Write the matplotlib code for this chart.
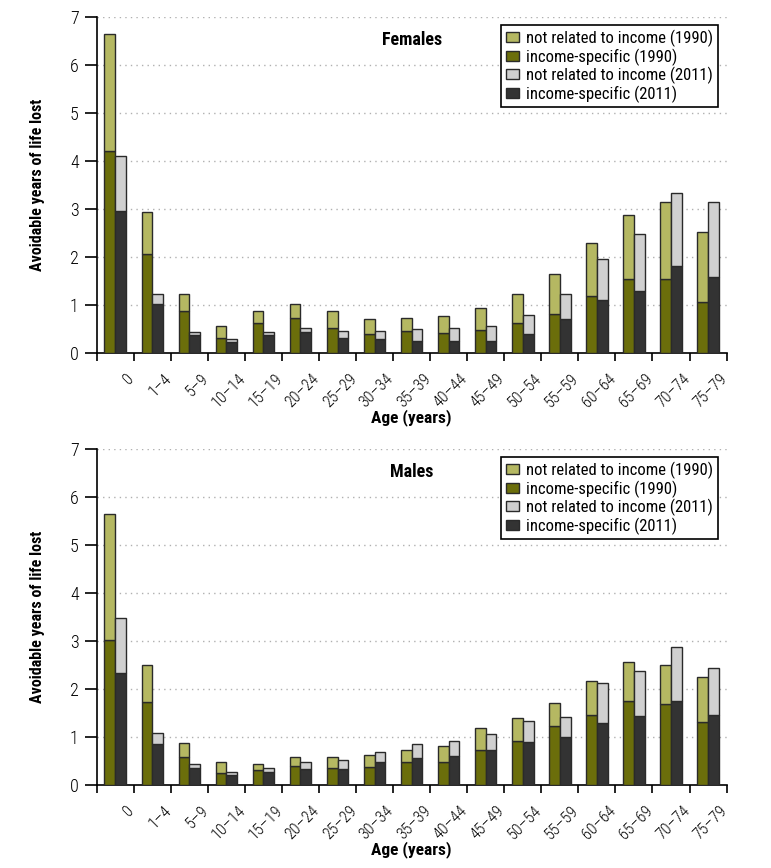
import numpy as np
import matplotlib
matplotlib.use("Agg")
import matplotlib.pyplot as plt
import matplotlib.transforms as mtransforms
from matplotlib.patches import Patch

plt.rcParams["font.family"] = ["Roboto Condensed", "Liberation Sans Narrow", "Roboto", "DejaVu Sans"]

# Data
ages = ["0", "1\u20134", "5\u20139", "10\u201314", "15\u201319", "20\u201324", "25\u201329",
        "30\u201334", "35\u201339", "40\u201344", "45\u201349", "50\u201354", "55\u201359",
        "60\u201364", "65\u201369", "70\u201374", "75\u201379"]

# Females: income-specific and total (income-specific + not related to income)
f_inc_1990 = [4.22, 2.07, 0.87, 0.32, 0.63, 0.74, 0.53, 0.40, 0.46, 0.42, 0.48, 0.63, 0.82, 1.18, 1.54, 1.54, 1.06]
f_tot_1990 = [6.65, 2.94, 1.24, 0.56, 0.87, 1.03, 0.87, 0.70, 0.73, 0.77, 0.93, 1.24, 1.64, 2.30, 2.87, 3.14, 2.52]
f_inc_2011 = [2.97, 1.02, 0.37, 0.22, 0.37, 0.43, 0.32, 0.30, 0.26, 0.26, 0.26, 0.40, 0.70, 1.11, 1.30, 1.81, 1.58]
f_tot_2011 = [4.11, 1.24, 0.44, 0.30, 0.44, 0.53, 0.46, 0.46, 0.50, 0.53, 0.57, 0.80, 1.24, 1.97, 2.49, 3.34, 3.14]

# Males
m_inc_1990 = [3.02, 1.74, 0.59, 0.26, 0.31, 0.40, 0.35, 0.38, 0.47, 0.47, 0.72, 0.92, 1.24, 1.46, 1.75, 1.69, 1.31]
m_tot_1990 = [5.66, 2.50, 0.88, 0.49, 0.43, 0.59, 0.59, 0.62, 0.72, 0.81, 1.18, 1.40, 1.71, 2.16, 2.57, 2.50, 2.25]
m_inc_2011 = [2.33, 0.85, 0.36, 0.21, 0.28, 0.33, 0.33, 0.47, 0.56, 0.60, 0.73, 0.90, 1.00, 1.29, 1.44, 1.75, 1.46]
m_tot_2011 = [3.49, 1.08, 0.43, 0.28, 0.36, 0.49, 0.53, 0.68, 0.85, 0.91, 1.06, 1.33, 1.41, 2.12, 2.38, 2.88, 2.45]

labels = ["not related to income (1990)", "income-specific (1990)",
          "not related to income (2011)", "income-specific (2011)"]
colors = ["#b5b862", "#6b6e0b", "#d0d0d0", "#333333"]
edge = "#2a2a2a"


def draw_panel(fig, ax, title, inc90, tot90, inc11, tot11):
    x = np.arange(len(ages))
    w = 0.29
    inc90 = np.array(inc90)
    inc11 = np.array(inc11)
    rest90 = np.array(tot90) - inc90
    rest11 = np.array(tot11) - inc11

    ax.bar(x - w / 2, inc90, w, color=colors[1], edgecolor=edge, linewidth=1, zorder=3)
    ax.bar(x - w / 2, rest90, w, bottom=inc90, color=colors[0], edgecolor=edge, linewidth=1, zorder=3)
    ax.bar(x + w / 2, inc11, w, color=colors[3], edgecolor=edge, linewidth=1, zorder=3)
    ax.bar(x + w / 2, rest11, w, bottom=inc11, color=colors[2], edgecolor=edge, linewidth=1, zorder=3)

    ax.set_xlim(-0.5, len(ages) - 0.5)
    ax.set_ylim(0, 7)
    ax.set_yticks(range(8))
    ax.tick_params(axis="y", length=9, width=1.2, labelsize=13, pad=4)
    for t in ax.get_yticklabels():
        t.set_fontweight("light")

    # tick marks between groups, labels at group centres (shifted a bit right)
    ax.set_xticks(np.arange(-0.5, len(ages)), labels=[])
    ax.set_xticks(x, labels=ages, minor=True)
    ax.tick_params(axis="x", which="major", length=6, width=1.2)
    ax.tick_params(axis="x", which="minor", length=0, labelsize=11.5, pad=13)
    shift = mtransforms.ScaledTranslation(8 / 72, 0, fig.dpi_scale_trans)
    for t in ax.get_xticklabels(minor=True):
        t.set_rotation(45)
        t.set_ha("right")
        t.set_va("top")
        t.set_rotation_mode("anchor")
        t.set_fontweight("light")
        t.set_transform(t.get_transform() + shift)

    for y in range(1, 8):
        ax.axhline(y, color="#b0b0b0", linestyle=(0, (1, 3)), linewidth=1, zorder=1)

    for s in ["top", "right"]:
        ax.spines[s].set_visible(False)
    for s in ["left", "bottom"]:
        ax.spines[s].set_linewidth(1.2)

    ax.set_ylabel("Avoidable years of life lost", fontsize=11.5, fontweight="bold", labelpad=18)
    ax.set_xlabel("Age (years)", fontsize=12.5, fontweight="bold", va="top")
    ax.xaxis.set_label_coords(0.5, -0.168)
    ax.text(8.0, 6.53, title, fontsize=13, fontweight="bold", ha="center", va="center")

    handles = [Patch(facecolor=c, edgecolor=edge, linewidth=1) for c in colors]
    leg = ax.legend(handles, labels, loc="upper right", bbox_to_anchor=(0.986, 0.977),
                    fontsize=12, frameon=True, fancybox=False, framealpha=1,
                    edgecolor="black", handlelength=0.8, handleheight=0.55,
                    handletextpad=0.4, labelspacing=0.08, borderpad=0.28,
                    borderaxespad=0)
    leg.get_frame().set_linewidth(1.2)


fig = plt.figure(figsize=(7.71, 8.68), dpi=100)
ax1 = fig.add_axes([0.1254, 0.5933, 0.817, 0.3867])
ax2 = fig.add_axes([0.1254, 0.0956, 0.817, 0.3868])

draw_panel(fig, ax1, "Females", f_inc_1990, f_tot_1990, f_inc_2011, f_tot_2011)
draw_panel(fig, ax2, "Males", m_inc_1990, m_tot_1990, m_inc_2011, m_tot_2011)

fig.savefig("out.png", dpi=100)
